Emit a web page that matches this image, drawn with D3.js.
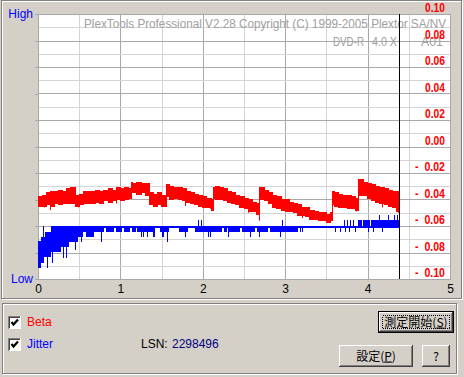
<!DOCTYPE html>
<html lang="ja">
<head>
<meta charset="UTF-8">
<title>PlexTools Beta / Jitter</title>
<script src="https://d3js.org/d3.v7.min.js"></script>
<style>
  body { margin: 0; padding: 0; background: #d4d0c8; }
  svg { display: block; }
  text { font-family: "Liberation Sans", Arial, sans-serif; }
  .jp { font-family: "Noto Sans CJK JP", sans-serif; }
</style>
</head>
<body>
<div id="chart"></div>
<script>
// x axis: LSN position (GB), right axis: beta, left axis: jitter (Low..High)
const xTicks = [0, 1, 2, 3, 4, 5];
const betaTicks = [0.10, 0.08, 0.06, 0.04, 0.02, 0.00, -0.02, -0.04, -0.06, -0.08, -0.10];

// Beta band (upper and lower edge)
const betaLsn = [0, 0.05, 0.10, 0.15, 0.20, 0.25, 0.30, 0.35, 0.40, 0.45,
  0.46, 0.50, 0.55, 0.60, 0.65, 0.70, 0.75, 0.80, 0.85, 0.90, 0.95, 1.00, 1.05, 1.10,
  1.13, 1.15, 1.20, 1.25, 1.30,
  1.35, 1.40, 1.45, 1.50,
  1.56, 1.60, 1.65, 1.70, 1.75, 1.80, 1.85, 1.90, 1.95, 2.00, 2.05, 2.10,
  2.13, 2.15, 2.20, 2.25, 2.30, 2.35, 2.40, 2.45, 2.50, 2.55, 2.60, 2.65,
  2.69, 2.75, 2.80, 2.85, 2.90, 2.95, 3.00, 3.05, 3.10, 3.15, 3.20, 3.25, 3.30, 3.35, 3.40, 3.45, 3.50, 3.55,
  3.57, 3.60, 3.65, 3.70, 3.75, 3.80, 3.85,
  3.89, 3.95, 4.00, 4.05, 4.10, 4.15, 4.20, 4.25, 4.30, 4.35, 4.385];
const betaHigh = [-0.038, -0.037, -0.035, -0.034, -0.034, -0.033, -0.034, -0.032, -0.031, -0.031,
  -0.037, -0.036, -0.034, -0.034, -0.034, -0.033, -0.034, -0.033, -0.032, -0.033, -0.031, -0.032, -0.031, -0.032,
  -0.027, -0.028, -0.027, -0.028, -0.028,
  -0.035, -0.036, -0.035, -0.037,
  -0.029, -0.030, -0.031, -0.031, -0.032, -0.034, -0.035, -0.036, -0.037, -0.038, -0.039, -0.040,
  -0.031, -0.030, -0.031, -0.032, -0.034, -0.035, -0.037, -0.038, -0.039, -0.040, -0.042, -0.043,
  -0.031, -0.033, -0.035, -0.037, -0.038, -0.040, -0.040, -0.042, -0.043, -0.044, -0.046, -0.046, -0.048, -0.049, -0.050, -0.050, -0.051, -0.050,
  -0.034, -0.035, -0.036, -0.037, -0.037, -0.038, -0.039,
  -0.025, -0.027, -0.028, -0.029, -0.030, -0.031, -0.032, -0.033, -0.034, -0.034, -0.035];
const betaLow = [-0.045, -0.045, -0.044, -0.045, -0.043, -0.044, -0.043, -0.043, -0.043, -0.042,
  -0.045, -0.044, -0.043, -0.043, -0.043, -0.042, -0.043, -0.041, -0.042, -0.041, -0.040, -0.041, -0.040, -0.039,
  -0.034, -0.035, -0.036, -0.035, -0.037,
  -0.044, -0.045, -0.044, -0.045,
  -0.038, -0.040, -0.039, -0.040, -0.041, -0.042, -0.043, -0.044, -0.045, -0.046, -0.046, -0.048,
  -0.039, -0.040, -0.040, -0.041, -0.042, -0.043, -0.044, -0.046, -0.047, -0.049, -0.049, -0.051,
  -0.040, -0.041, -0.043, -0.046, -0.047, -0.048, -0.049, -0.049, -0.050, -0.052, -0.052, -0.053, -0.055, -0.055, -0.056, -0.056, -0.057, -0.056,
  -0.044, -0.045, -0.046, -0.046, -0.047, -0.047, -0.048,
  -0.037, -0.037, -0.039, -0.041, -0.042, -0.043, -0.044, -0.045, -0.046, -0.049, -0.050];
// single downward beta spikes
const betaSpikeLsn = [0.07, 0.14, 0.48, 0.95, 1.78, 2.09, 2.55, 2.68, 3.20, 3.86, 4.17, 4.37];
const betaSpikeValue = [-0.046, -0.048, -0.046, -0.043, -0.045, -0.047, -0.050, -0.056, -0.054, -0.049, -0.046, -0.050];

// Jitter trace (upper and lower edge, 0 = Low, 10 = High)
const jitLsn = [0, 0.036, 0.055, 0.067, 0.073, 0.085, 0.109, 0.121, 0.158, 0.170, 0.182,
  0.279, 0.303, 0.316, 0.340, 0.352, 0.376, 0.449, 0.461, 0.485, 0.522, 0.534, 0.546, 0.583,
  0.680, 0.765, 0.777, 0.801, 0.825, 0.922, 0.947, 1.019, 1.038, 1.117, 1.141, 1.189, 1.201,
  1.250, 1.262, 1.274, 1.286, 1.322, 1.335, 1.396, 1.420, 1.481, 1.505, 1.529, 1.566, 1.578, 1.593,
  1.715, 1.784, 1.796, 1.824, 1.905, 1.942, 1.954, 1.978, 1.990, 2.063, 2.075, 2.087, 2.100,
  2.229, 2.257, 2.297, 2.309, 2.322, 2.451, 2.472, 2.573, 2.585, 2.633, 2.654, 2.682, 2.694,
  2.795, 2.816, 2.937, 2.949, 2.958, 2.977, 3.159, 3.180, 3.192, 3.204, 3.216, 3.604, 3.617,
  3.665, 3.677, 3.714, 3.726, 3.738, 3.754, 3.766, 3.778, 3.790, 3.802, 3.826, 3.839, 3.847,
  3.859, 3.880, 3.928, 3.941, 4.008, 4.020, 4.029, 4.041, 4.069, 4.081, 4.138, 4.150, 4.171,
  4.183, 4.244, 4.256, 4.324, 4.336, 4.360, 4.373, 4.385];
const jitHigh = [1.43, 1.58, 2.00, 1.58, 1.58, 1.78, 1.78, 1.78, 2.00, 2.00, 2.00,
  2.00, 2.00, 2.00, 2.00, 2.00, 2.00, 2.00, 2.00, 2.00, 2.00, 2.00, 2.00, 2.00,
  2.00, 2.00, 2.00, 2.00, 2.00, 2.00, 2.00, 2.00, 2.00, 2.00, 2.00, 2.00, 2.00,
  2.00, 2.00, 2.00, 2.00, 2.00, 2.00, 2.00, 2.00, 2.00, 2.00, 2.00, 2.00, 2.00, 2.00,
  2.00, 2.00, 2.00, 2.00, 2.00, 2.23, 2.00, 2.23, 2.00, 2.00, 2.00, 2.00, 2.00,
  2.00, 2.00, 2.00, 2.00, 2.00, 2.00, 2.00, 2.00, 2.00, 2.00, 2.00, 2.00, 2.00,
  2.00, 2.00, 2.00, 2.00, 2.23, 2.00, 2.00, 2.00, 2.00, 2.00, 2.00, 2.00, 2.00,
  2.00, 2.00, 2.23, 2.00, 2.00, 2.23, 2.00, 2.00, 2.23, 2.00, 2.23, 2.00, 2.00,
  2.00, 2.23, 2.00, 2.23, 2.23, 2.23, 2.00, 2.23, 2.23, 2.23, 2.42, 2.23, 2.23,
  2.23, 2.42, 2.23, 2.42, 2.23, 2.42, 2.23, 2.23];
const jitLow = [0.42, 0.60, 0.60, 0.60, 0.84, 0.84, 0.42, 0.84, 1.03, 0.60, 1.03,
  1.22, 0.80, 1.22, 0.80, 1.22, 1.41, 1.09, 1.41, 1.60, 1.41, 1.60, 1.78, 1.60,
  1.78, 1.41, 1.78, 1.92, 1.78, 1.92, 1.78, 1.92, 1.78, 1.92, 1.78, 1.92, 1.78,
  1.60, 1.78, 1.60, 1.78, 1.60, 1.78, 1.60, 1.92, 1.78, 1.60, 1.78, 1.41, 1.78, 1.92,
  1.78, 1.60, 1.78, 1.92, 1.78, 1.78, 1.78, 1.78, 1.78, 1.60, 1.78, 1.60, 1.78,
  1.92, 1.78, 1.92, 1.60, 1.78, 1.92, 1.78, 1.60, 1.78, 1.92, 1.78, 1.60, 1.78,
  1.92, 1.78, 1.60, 1.78, 1.78, 1.78, 1.92, 1.78, 1.92, 1.78, 1.92, 1.78, 1.92,
  1.78, 1.92, 1.92, 1.78, 1.92, 1.92, 1.92, 1.78, 1.92, 1.92, 1.92, 1.92, 1.78,
  1.92, 1.92, 1.92, 1.92, 1.78, 1.92, 1.92, 1.92, 1.78, 1.92, 1.92, 1.92, 1.78,
  1.92, 1.92, 1.92, 1.92, 1.92, 1.92, 1.92, 1.92];

const lsnValue = "2298496";

// ---------------------------------------------------------------
const W = 464, H = 377;
const plot = {left: 38, right: 450, top: 14, bottom: 279};

const svg = d3.select("#chart").append("svg")
  .attr("width", W).attr("height", H);

const x = d3.scaleLinear().domain([0, 5]).range([plot.left, plot.right]);
const yBeta = d3.scaleLinear().domain([-0.10, 0.10]).range([plot.bottom, plot.top]);
const yJit = d3.scaleLinear().domain([0, 10]).range([plot.bottom, plot.top]);
const px = v => Math.round(v) + 0.5;

// window frame
svg.append("rect").attr("x", 2.5).attr("y", 1.5).attr("width", 460).attr("height", 298)
  .attr("fill", "none").attr("stroke", "#ffffff");
svg.append("rect").attr("x", 1.5).attr("y", 0.5).attr("width", 460).attr("height", 298)
  .attr("fill", "none").attr("stroke", "#808080");

// plot area
svg.append("rect")
  .attr("x", x(0)).attr("y", yBeta(0.10))
  .attr("width", x(5) - x(0)).attr("height", yBeta(-0.10) - yBeta(0.10))
  .attr("fill", "#ffffff");

const grid = svg.append("g").attr("shape-rendering", "crispEdges");
// vertical grid every 0.5
grid.selectAll("line.v").data(x.ticks(10)).join("line")
  .attr("x1", d => px(x(d))).attr("x2", d => px(x(d)))
  .attr("y1", plot.top).attr("y2", plot.bottom)
  .attr("stroke", d => Number.isInteger(d) ? "#a8a8a8" : "#d4d4d4");
// horizontal grid every 0.01 beta
grid.selectAll("line.h").data(yBeta.ticks(20)).join("line")
  .attr("x1", plot.left).attr("x2", plot.right)
  .attr("y1", d => px(yBeta(d))).attr("y2", d => px(yBeta(d)))
  .attr("stroke", d => Math.round(d * 100) % 2 === 0 ? "#a8a8a8" : "#d4d4d4");
grid.append("rect")
  .attr("x", px(plot.left)).attr("y", px(plot.top))
  .attr("width", Math.round(plot.right - plot.left)).attr("height", Math.round(plot.bottom - plot.top))
  .attr("fill", "none").attr("stroke", "#a8a8a8");

// left tick marks
const leftAxis = svg.append("g")
  .attr("transform", `translate(${plot.left},0)`)
  .call(d3.axisLeft(yJit).ticks(10).tickSize(3).tickFormat(""));
leftAxis.select(".domain").remove();
leftAxis.selectAll("line").attr("stroke", "#a8a8a8").attr("shape-rendering", "crispEdges");

// watermark text
svg.append("text").attr("x", 84).attr("y", 28)
  .attr("font-size", 12).attr("fill", "#a0a0a0")
  .attr("textLength", 362).attr("lengthAdjust", "spacingAndGlyphs")
  .text("PlexTools Professional V2.28 Copyright (C) 1999-2005 Plextor SA/NV");
const sub = svg.append("g").attr("font-size", 12).attr("fill", "#a0a0a0");
sub.append("text").attr("x", 333).attr("y", 46).attr("textLength", 31)
  .attr("lengthAdjust", "spacingAndGlyphs").text("DVD-R");
sub.append("text").attr("x", 372).attr("y", 46).attr("textLength", 25)
  .attr("lengthAdjust", "spacingAndGlyphs").text("4.0 X");
sub.append("text").attr("x", 421).attr("y", 46).attr("textLength", 22)
  .attr("lengthAdjust", "spacingAndGlyphs").text("A01");

// jitter trace
const jitData = jitLsn.map((d, i) => ({lsn: d, hi: jitHigh[i], lo: jitLow[i]}));
svg.append("path").datum(jitData)
  .attr("fill", "#0000ff").attr("shape-rendering", "crispEdges")
  .attr("d", d3.area().curve(d3.curveStepAfter)
    .x(d => x(d.lsn)).y0(d => yJit(d.lo)).y1(d => yJit(d.hi)));

// beta band
const betaData = betaLsn.map((d, i) => ({lsn: d, hi: betaHigh[i], lo: betaLow[i]}));
svg.append("path").datum(betaData)
  .attr("fill", "#ff0000").attr("stroke", "#ff0000").attr("stroke-width", 1)
  .attr("shape-rendering", "crispEdges")
  .attr("d", d3.area().curve(d3.curveStepAfter)
    .x(d => x(d.lsn)).y0(d => yBeta(d.lo)).y1(d => yBeta(d.hi)));
svg.append("g").selectAll("line").data(betaSpikeLsn).join("line")
  .attr("x1", d => px(x(d))).attr("x2", d => px(x(d)))
  .attr("y1", (d, i) => yBeta(betaSpikeValue[i]))
  .attr("y2", (d, i) => yBeta(betaSpikeValue[i] + 0.008))
  .attr("stroke", "#ff0000").attr("stroke-width", 1);

// current position marker
const lastLsn = betaLsn[betaLsn.length - 1];
svg.append("line")
  .attr("x1", px(x(lastLsn))).attr("x2", px(x(lastLsn)))
  .attr("y1", plot.top).attr("y2", plot.bottom)
  .attr("stroke", "#000000").attr("shape-rendering", "crispEdges");

// right (beta) labels
svg.append("g").selectAll("text").data(betaTicks).join("text")
  .attr("x", 445).attr("y", d => yBeta(d) - 2)
  .attr("text-anchor", "end").attr("font-size", 12).attr("font-weight", "bold")
  .attr("fill", "#ff0000")
  .attr("textLength", d => d < -0.0001 ? 30 : 20)
  .attr("lengthAdjust", "spacingAndGlyphs")
  .style("white-space", "pre")
  .text(d => d < -0.0001 ? "-  " + Math.abs(d).toFixed(2) : d.toFixed(2));

// High / Low
svg.append("text").attr("x", 33).attr("y", 18).attr("text-anchor", "end")
  .attr("font-size", 12).attr("fill", "#0000ff").text("High");
svg.append("text").attr("x", 33).attr("y", 283).attr("text-anchor", "end")
  .attr("font-size", 12).attr("fill", "#0000ff").text("Low");

// x axis labels
const xAxis = svg.append("g")
  .attr("transform", `translate(0,${plot.bottom})`)
  .call(d3.axisBottom(x).tickValues(xTicks).tickSize(0).tickPadding(5.5).tickFormat(d3.format("d")));
xAxis.select(".domain").remove();
xAxis.selectAll("text").attr("font-size", 12).attr("fill", "#000000")
  .attr("font-family", "'Liberation Sans', Arial, sans-serif");

// ---------------------------------------------------------------
// lower control group
function etched(g, x0, y0, w, h) {
  g.append("rect").attr("x", x0 + 1.5).attr("y", y0 + 1.5).attr("width", w).attr("height", h)
    .attr("fill", "none").attr("stroke", "#ffffff");
  g.append("rect").attr("x", x0 + 0.5).attr("y", y0 + 0.5).attr("width", w).attr("height", h)
    .attr("fill", "none").attr("stroke", "#808080");
}
const ctl = svg.append("g").attr("shape-rendering", "crispEdges");
etched(ctl, 2, 303, 454, 70);

function checkbox(g, x0, y0) {
  g.append("rect").attr("x", x0).attr("y", y0).attr("width", 13).attr("height", 13).attr("fill", "#ffffff");
  g.append("path").attr("fill", "none").attr("stroke", "#808080")
    .attr("d", `M${x0 + 0.5},${y0 + 13}V${y0 + 0.5}H${x0 + 13}`);
  g.append("path").attr("fill", "none").attr("stroke", "#404040")
    .attr("d", `M${x0 + 1.5},${y0 + 12}V${y0 + 1.5}H${x0 + 12}`);
  g.append("path").attr("fill", "none").attr("stroke", "#ffffff")
    .attr("d", `M${x0 + 0.5},${y0 + 12.5}H${x0 + 12.5}V${y0}`);
  g.append("path").attr("fill", "none").attr("stroke", "#000000").attr("stroke-width", 2.2)
    .attr("shape-rendering", "auto")
    .attr("d", `M${x0 + 3.5},${y0 + 6}L${x0 + 5.5},${y0 + 8.5}L${x0 + 10},${y0 + 3.5}`);
}
checkbox(ctl, 8, 316);
checkbox(ctl, 8, 338);
svg.append("text").attr("x", 27).attr("y", 326).attr("font-size", 12).attr("fill", "#ff0000").text("Beta");
svg.append("text").attr("x", 27).attr("y", 348).attr("font-size", 12).attr("fill", "#0000ff").text("Jitter");
svg.append("text").attr("x", 141).attr("y", 348).attr("font-size", 12).attr("fill", "#000000").text("LSN:");
svg.append("text").attr("x", 172).attr("y", 348).attr("font-size", 12).attr("fill", "#000080").text(lsnValue);

function button(g, x0, y0, w, h, label, key, isDefault) {
  const b = g.append("g").attr("shape-rendering", "crispEdges");
  if (isDefault) {
    b.append("rect").attr("x", x0 + 0.5).attr("y", y0 + 0.5).attr("width", w - 1).attr("height", h - 1)
      .attr("fill", "#d4d0c8").attr("stroke", "#000000");
    x0 += 1; y0 += 1; w -= 2; h -= 2;
  }
  b.append("rect").attr("x", x0).attr("y", y0).attr("width", w).attr("height", h).attr("fill", "#d4d0c8");
  b.append("path").attr("fill", "none").attr("stroke", "#ffffff")
    .attr("d", `M${x0 + 0.5},${y0 + h - 1}V${y0 + 0.5}H${x0 + w - 1}`);
  b.append("path").attr("fill", "none").attr("stroke", "#404040")
    .attr("d", `M${x0},${y0 + h - 0.5}H${x0 + w - 0.5}V${y0}`);
  b.append("path").attr("fill", "none").attr("stroke", "#808080")
    .attr("d", `M${x0 + 1},${y0 + h - 1.5}H${x0 + w - 1.5}V${y0 + 1}`);
  if (isDefault) {
    b.append("rect").attr("x", x0 + 3.5).attr("y", y0 + 3.5).attr("width", w - 7).attr("height", h - 7)
      .attr("fill", "none").attr("stroke", "#000000").attr("stroke-dasharray", "1,1");
  }
  const t = b.append("text").attr("class", "jp")
    .attr("x", x0 + w / 2).attr("y", y0 + h / 2 + 4.5)
    .attr("text-anchor", "middle").attr("font-size", 12).attr("fill", "#000000");
  if (key) {
    t.append("tspan").text(label + "(");
    t.append("tspan").attr("text-decoration", "underline").text(key);
    t.append("tspan").text(")");
  } else {
    t.text(label);
  }
}
button(svg, 378, 311, 76, 22, "測定開始", "S", true);
button(svg, 339, 345, 74, 22, "設定", "P", false);
button(svg, 422, 345, 28, 22, "?", null, false);
</script>
</body>
</html>
